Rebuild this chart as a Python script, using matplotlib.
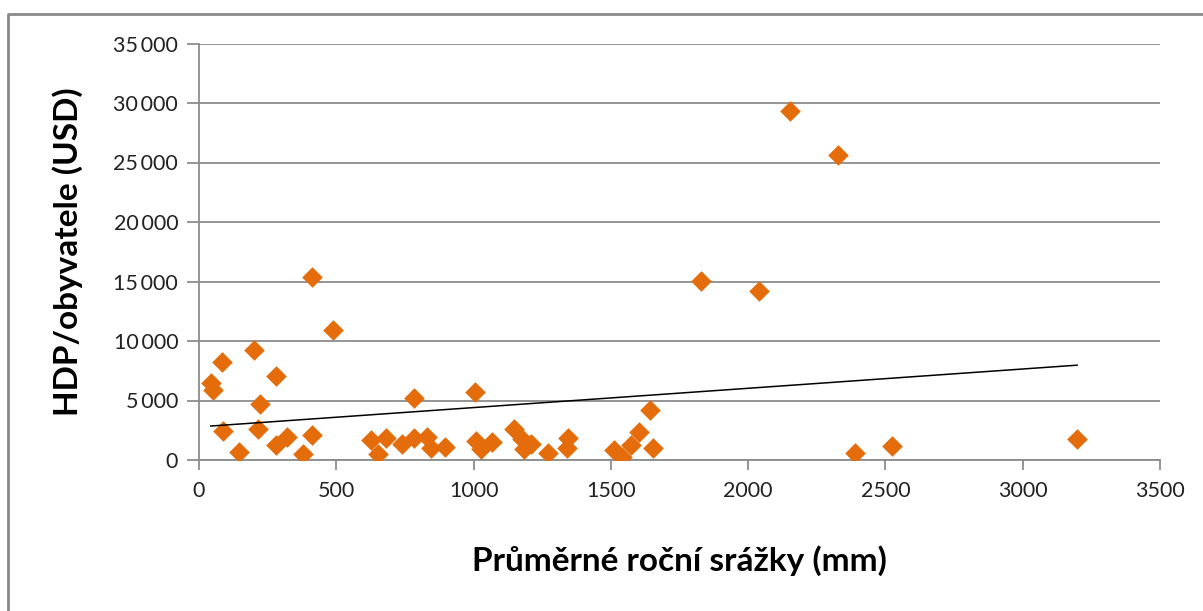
import numpy as np
import matplotlib.pyplot as plt
from matplotlib.lines import Line2D
from matplotlib.ticker import FuncFormatter

# average annual precipitation (mm) and GDP per capita (USD)
srazky = [43, 50, 83, 88, 147, 201, 216, 222, 280, 280, 319, 380, 411, 412, 489,
          628, 653, 680, 741, 782, 783, 831, 844, 895, 1005, 1009, 1028, 1066,
          1148, 1178, 1182, 1208, 1270, 1341, 1345, 1512, 1539, 1572, 1601, 1642,
          1652, 1827, 2039, 2152, 2328, 2389, 2523, 3198]
hdp = [6500, 5900, 8200, 2400, 700, 9250, 2600, 4700, 7100, 1250, 1950, 500, 15350,
       2100, 10900, 1650, 520, 1870, 1360, 1860, 5200, 1900, 1000, 1120, 5700, 1600,
       950, 1550, 2620, 1800, 900, 1330, 560, 980, 1820, 860, 250, 1300, 2380, 4200,
       980, 15040, 14230, 29330, 25630, 560, 1180, 1760]

x_ticks = [0, 500, 1000, 1500, 2000, 2500, 3000, 3500]
y_ticks = [0, 5000, 10000, 15000, 20000, 25000, 30000, 35000]

plt.rcParams['font.family'] = ['Lato', 'DejaVu Sans']
grid_col = '#8c8c8c'

fig = plt.figure(figsize=(12.03, 6.11), dpi=100)
ax = fig.add_axes([199 / 1203, 1 - 460 / 611, 961 / 1203, (460 - 43.5) / 611])

ax.scatter(srazky, hdp, marker='D', s=10.5 ** 2, color='#E46C0A', linewidths=0, zorder=3)

# linear trend over the data range
x = np.array(srazky, dtype=float)
k, q = np.polyfit(x, np.array(hdp, dtype=float), 1)
xs = np.array([x.min(), x.max()])
ax.plot(xs, k * xs + q, color='black', lw=1.1, zorder=4)

ax.set_xlim(0, 3500)
ax.set_ylim(0, 35000)
ax.set_xticks(x_ticks)
ax.set_yticks(y_ticks)
ax.yaxis.set_major_formatter(FuncFormatter(lambda v, p: f'{int(v):,}'.replace(',', '\u2009')))
ax.grid(axis='y', color=grid_col, lw=1.3)
ax.set_axisbelow(True)

for s in ['top', 'right']:
    ax.spines[s].set_visible(False)
for s in ['left', 'bottom']:
    ax.spines[s].set_color(grid_col)
    ax.spines[s].set_linewidth(1.3)
ax.tick_params(axis='y', length=9, width=1.3, color=grid_col, labelsize=15.5, pad=6,
               labelcolor='#222222')
ax.tick_params(axis='x', length=7, width=1.3, color=grid_col, labelsize=15.5, pad=8,
               labelcolor='#222222')

ax.set_xlabel('Průměrné roční srážky (mm)', fontsize=24, fontweight='bold', labelpad=32)
ax.set_ylabel('HDP/obyvatele (USD)', fontsize=24, fontweight='bold', labelpad=22)

# chart frame
fig.add_artist(Line2D([8 / 1203, 8 / 1203, 1.0], [0.0, 1 - 14 / 611, 1 - 14 / 611],
                      transform=fig.transFigure, color='#8a8a8a', lw=2))

fig.savefig('out.png', dpi=100)
